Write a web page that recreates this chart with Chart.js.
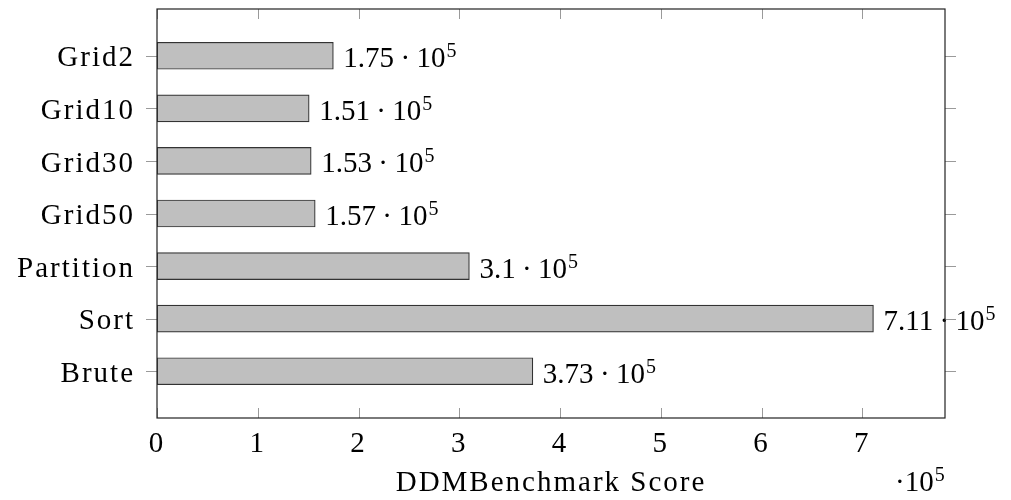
<!DOCTYPE html>
<html>
<head>
<meta charset="utf-8">
<script src="https://cdn.jsdelivr.net/npm/chart.js@4.4.0/dist/chart.umd.min.js"></script>
<style>
  body { margin: 0; background: #fff; }
  #wrap { width: 1011px; height: 500px; }
</style>
</head>
<body>
<div id="wrap"><canvas id="scoreChart"></canvas></div>
<script>
const categories = ["Grid2", "Grid10", "Grid30", "Grid50", "Partition", "Sort", "Brute"];
const scores = [1.75, 1.51, 1.53, 1.57, 3.1, 7.11, 3.73];
const xTickValues = [0, 1, 2, 3, 4, 5, 6, 7];
const exponent = "5";
const axisTitle = "DDMBenchmark Score";

const FONT = '"Liberation Serif", "Times New Roman", serif';

// wider letters, closer to the LaTeX look of the original
const spacing = {
  id: "spacing",
  beforeDraw(chart) { chart.ctx.letterSpacing = "2px"; },
  afterDatasetsDraw(chart) { chart.ctx.letterSpacing = "0px"; },
};

// value labels "1.75 · 10^5" next to each bar
const valueLabels = {
  id: "valueLabels",
  afterDatasetsDraw(chart) {
    const ctx = chart.ctx;
    const meta = chart.getDatasetMeta(0);
    ctx.save();
    ctx.letterSpacing = "0px";
    ctx.fillStyle = "#000";
    ctx.textBaseline = "alphabetic";
    ctx.textAlign = "left";
    meta.data.forEach((bar, i) => {
      let x = bar.x + 10;
      const y = bar.y + 11.5;
      ctx.font = "29px " + FONT;
      const m = String(scores[i]);
      ctx.fillText(m, x, y);
      x += ctx.measureText(m).width + 6.4;
      ctx.fillText("\u00b7", x, y);
      x += ctx.measureText("\u00b7").width + 6.4;
      ctx.fillText("10", x, y);
      x += ctx.measureText("10").width + 1;
      ctx.font = "20px " + FONT;
      ctx.fillText(exponent, x, y - 10);
    });
    ctx.restore();
  },
};

// pgfplots style frame, ticks, axis label and multiplier
const frame = {
  id: "frame",
  afterDraw(chart) {
    const ctx = chart.ctx;
    const a = chart.chartArea;
    const xs = chart.scales.x;
    const ys = chart.scales.y;
    ctx.save();
    ctx.strokeStyle = "#9a9a9a";
    ctx.lineWidth = 1;
    ctx.beginPath();
    xTickValues.forEach((v) => {
      const px = Math.round(xs.getPixelForValue(v)) + 0.5;
      ctx.moveTo(px, a.bottom);
      ctx.lineTo(px, a.bottom - 10);
      ctx.moveTo(px, a.top);
      ctx.lineTo(px, a.top + 10);
    });
    categories.forEach((c, i) => {
      const py = Math.round(ys.getPixelForValue(i)) + 0.5;
      ctx.moveTo(a.left - 11, py);
      ctx.lineTo(a.left, py);
      ctx.moveTo(a.right, py);
      ctx.lineTo(a.right + 11, py);
    });
    ctx.stroke();

    ctx.strokeStyle = "#222";
    ctx.lineWidth = 1.2;
    ctx.strokeRect(a.left, a.top, a.right - a.left, a.bottom - a.top);

    ctx.fillStyle = "#000";
    ctx.textBaseline = "alphabetic";
    ctx.font = "29px " + FONT;
    ctx.letterSpacing = "2px";
    ctx.textAlign = "center";
    ctx.fillText(axisTitle, (a.left + a.right) / 2, 491);
    ctx.letterSpacing = "0px";
    ctx.textAlign = "left";
    let x = 895;
    ctx.fillText("\u00b710", x, 491);
    x += ctx.measureText("\u00b710").width + 1;
    ctx.font = "20px " + FONT;
    ctx.fillText(exponent, x, 481);
    ctx.restore();
  },
};

const noPad = (s) => {
  s.paddingTop = 0;
  s.paddingBottom = 0;
  s.paddingLeft = 0;
  s.paddingRight = 0;
};

const ctx = document.getElementById("scoreChart");
new Chart(ctx, {
  type: "bar",
  data: {
    datasets: [
      {
        data: scores.map((v, i) => ({ x: v, y: i })),
        backgroundColor: "#bfbfbf",
        borderColor: "#333",
        borderWidth: 1.2,
        borderSkipped: false,
        barThickness: 27,
      },
    ],
  },
  options: {
    indexAxis: "y",
    responsive: true,
    maintainAspectRatio: false,
    animation: false,
    layout: { padding: { top: 9, right: 66, left: 0, bottom: 0 } },
    plugins: {
      legend: { display: false },
      tooltip: { enabled: false },
    },
    scales: {
      x: {
        type: "linear",
        min: 0,
        max: 7.82,
        offset: false,
        grid: { display: false, drawTicks: false },
        border: { display: false },
        ticks: {
          stepSize: 1,
          includeBounds: false,
          color: "#000",
          padding: 9,
          font: { family: FONT, size: 29 },
        },
        afterFit: (s) => { s.height = 82; noPad(s); },
      },
      y: {
        type: "linear",
        reverse: true,
        min: -0.89,
        max: 6.89,
        offset: false,
        grid: { display: false, drawTicks: false, offset: false },
        border: { display: false },
        afterBuildTicks: (s) => {
          s.ticks = categories.map((c, i) => ({ value: i }));
        },
        ticks: {
          autoSkip: false,
          color: "#000",
          padding: 22,
          labelOffset: 3,
          font: { family: FONT, size: 29 },
          callback: (v) => categories[v],
        },
        afterFit: (s) => { s.width = 157; noPad(s); },
      },
    },
  },
  plugins: [spacing, valueLabels, frame],
});
</script>
</body>
</html>
